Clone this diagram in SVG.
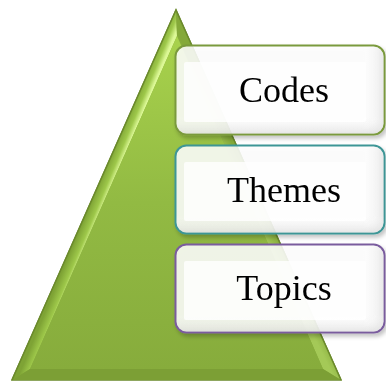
<svg xmlns="http://www.w3.org/2000/svg" width="386" height="383" viewBox="0 0 386 383">
  <defs>
    <linearGradient id="faceLeft" gradientUnits="userSpaceOnUse" x1="94" y1="195" x2="106" y2="200">
      <stop offset="0" stop-color="#7ea335"/>
      <stop offset="0.6" stop-color="#9ec84a"/>
      <stop offset="1" stop-color="#dcf896"/>
    </linearGradient>
    <linearGradient id="faceRight" gradientUnits="userSpaceOnUse" x1="258" y1="195" x2="246" y2="201">
      <stop offset="0" stop-color="#84a939"/>
      <stop offset="1" stop-color="#a4c957"/>
    </linearGradient>
    <linearGradient id="faceCenter" x1="0" y1="0" x2="0" y2="1">
      <stop offset="0" stop-color="#a8d24c"/>
      <stop offset="0.5" stop-color="#92ba43"/>
      <stop offset="1" stop-color="#87ac3c"/>
    </linearGradient>
    <linearGradient id="bandRight" x1="0" y1="0" x2="1" y2="0">
      <stop offset="0.9" stop-color="#ffffff" stop-opacity="0"/>
      <stop offset="1" stop-color="#d6d6d6" stop-opacity="0.5"/>
    </linearGradient>
    <linearGradient id="bandBottom" x1="0" y1="0" x2="0" y2="1">
      <stop offset="0.8" stop-color="#ffffff" stop-opacity="0"/>
      <stop offset="1" stop-color="#cccccc" stop-opacity="0.45"/>
    </linearGradient>
    <filter id="shadow" x="-10%" y="-10%" width="125%" height="130%">
      <feGaussianBlur in="SourceAlpha" stdDeviation="2"/>
      <feOffset dx="2" dy="3" result="b"/>
      <feComponentTransfer><feFuncA type="linear" slope="0.25"/></feComponentTransfer>
      <feMerge><feMergeNode/><feMergeNode in="SourceGraphic"/></feMerge>
    </filter>
  </defs>
  <style>
    .box { fill: #ffffff; fill-opacity: 0.86; stroke-width: 2; }
    .inner { fill: #ffffff; fill-opacity: 0.8; }
    .label { font-family: "Liberation Serif", "Times New Roman", serif; font-size: 36px; fill: #000000; text-anchor: middle; }
  </style>

  <!-- pyramid -->
  <g id="pyramid">
    <polygon points="176,10 12,380 341,380" fill="#86ab3a" stroke="#6b8a2c" stroke-width="1.5"/>
    <polygon points="176,10 12,380 30,369 177,36" fill="url(#faceLeft)"/>
    <polygon points="176,10 177,36 323,369 341,380" fill="url(#faceRight)"/>
    <polygon points="12,380 341,380 323,369 30,369" fill="#7c9f35"/>
    <polygon points="177,36 30,369 323,369" fill="url(#faceCenter)"/>
    <polyline points="12,380 176,10 341,380" fill="none" stroke="#6b8a2c" stroke-width="1.5"/>
  </g>

  <!-- Codes -->
  <g id="codes" filter="url(#shadow)">
    <rect class="box" x="175.5" y="45.5" width="209" height="89" rx="11" stroke="#7a9a3c"/>
    <rect x="176.5" y="46.5" width="207" height="87" rx="10" fill="url(#bandRight)"/>
    <rect x="176.5" y="46.5" width="207" height="87" rx="10" fill="url(#bandBottom)"/>
    <rect class="inner" x="184" y="62" width="182" height="60" rx="2"/>
    <text class="label" x="284" y="102">Codes</text>
  </g>

  <!-- Themes -->
  <g id="themes" filter="url(#shadow)">
    <rect class="box" x="175.5" y="145.5" width="209" height="88" rx="11" stroke="#3e9696"/>
    <rect x="176.5" y="146.5" width="207" height="86" rx="10" fill="url(#bandRight)"/>
    <rect x="176.5" y="146.5" width="207" height="86" rx="10" fill="url(#bandBottom)"/>
    <rect class="inner" x="184" y="162" width="182" height="59" rx="2"/>
    <text class="label" x="284" y="202">Themes</text>
  </g>

  <!-- Topics -->
  <g id="topics" filter="url(#shadow)">
    <rect class="box" x="175.5" y="244.5" width="209" height="88" rx="11" stroke="#7a5c9e"/>
    <rect x="176.5" y="245.5" width="207" height="86" rx="10" fill="url(#bandRight)"/>
    <rect x="176.5" y="245.5" width="207" height="86" rx="10" fill="url(#bandBottom)"/>
    <rect class="inner" x="184" y="261" width="182" height="59" rx="2"/>
    <text class="label" x="284" y="300">Topics</text>
  </g>

  <g id="connectors"/>
</svg>
